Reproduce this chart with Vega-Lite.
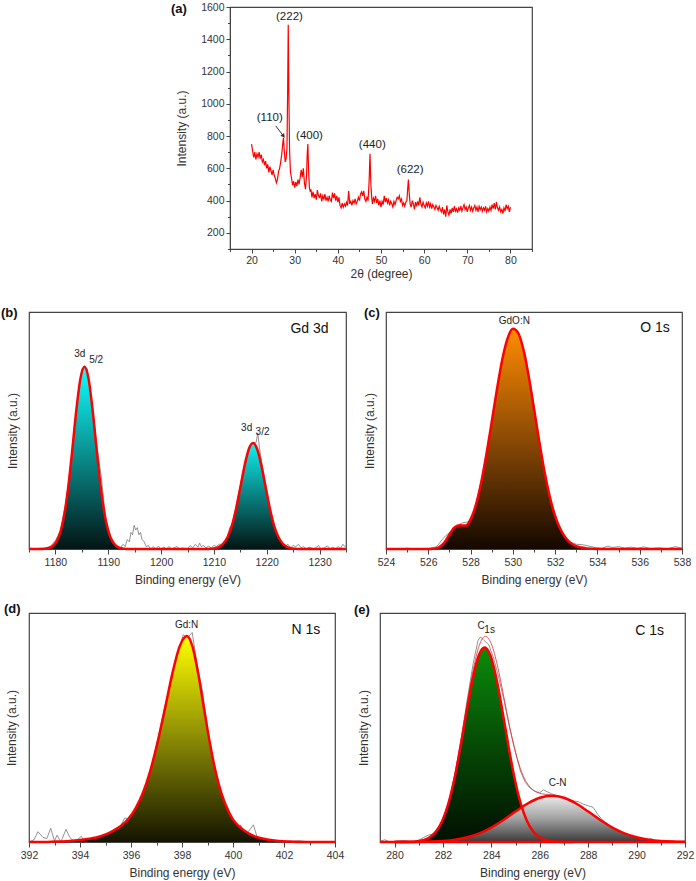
{
  "$schema": "https://vega.github.io/schema/vega-lite/v6.json",
  "padding": {"left": 0, "top": 1, "right": 0, "bottom": 0},
  "config": {
    "font": "Liberation Sans",
    "view": {"stroke": "#444", "strokeWidth": 1.2},
    "axis": {
      "labelFont": "Liberation Sans", "labelFontSize": 10.5, "labelColor": "#333",
      "titleFont": "Liberation Sans", "titleFontSize": 12, "titleFontWeight": "normal", "titleColor": "#333",
      "domainColor": "#444", "tickColor": "#444", "grid": false, "labelFlush": false, "labelOverlap": false
    },
    "title": {"font": "Liberation Sans", "fontSize": 13, "fontWeight": "bold", "color": "#111", "anchor": "start", "frame": "group", "baseline": "middle"}
  },
  "spacing": 24,
  "vconcat": [
    {
      "bounds": "flush",
      "spacing": 41,
      "hconcat": [
        {
          "width": 160, "height": 242,
          "view": {"stroke": null},
          "data": {"values": [{"v": 0}]},
          "mark": {"type": "rect", "opacity": 0},
          "encoding": {}
        },
        {
          "width": 302, "height": 242,
          "title": {"text": "(a)", "dx": -59, "offset": -14},
          "data": {"values": [
            {"x":20.00,"y":750},{"x":20.25,"y":705},{"x":20.50,"y":668},{"x":20.75,"y":700},{"x":21.00,"y":655},{"x":21.25,"y":690},{"x":21.50,"y":670},{"x":21.75,"y":700},
            {"x":22.00,"y":660},{"x":22.25,"y":685},{"x":22.50,"y":640},{"x":22.75,"y":655},{"x":23.00,"y":620},{"x":23.25,"y":645},{"x":23.50,"y":600},{"x":23.75,"y":625},
            {"x":24.00,"y":575},{"x":24.25,"y":610},{"x":24.50,"y":585},{"x":24.75,"y":560},{"x":25.00,"y":590},{"x":25.25,"y":555},{"x":25.50,"y":540},{"x":25.75,"y":510},
            {"x":26.00,"y":530},{"x":26.25,"y":580},{"x":26.50,"y":600},{"x":26.75,"y":640},{"x":27.00,"y":690},{"x":27.25,"y":760},{"x":27.40,"y":790},{"x":27.60,"y":700},
            {"x":27.80,"y":640},{"x":28.00,"y":660},{"x":28.20,"y":720},{"x":28.35,"y":1050},{"x":28.50,"y":1490},{"x":28.65,"y":1050},{"x":28.80,"y":720},{"x":29.00,"y":580},
            {"x":29.25,"y":540},{"x":29.50,"y":495},{"x":29.75,"y":520},{"x":30.00,"y":480},{"x":30.25,"y":515},{"x":30.50,"y":490},{"x":30.75,"y":530},{"x":31.00,"y":500},
            {"x":31.25,"y":540},{"x":31.50,"y":590},{"x":31.75,"y":545},{"x":32.00,"y":600},{"x":32.25,"y":510},{"x":32.50,"y":470},{"x":32.75,"y":560},{"x":32.90,"y":690},
            {"x":33.05,"y":750},{"x":33.20,"y":600},{"x":33.40,"y":480},{"x":33.60,"y":455},{"x":33.75,"y":470},{"x":34.00,"y":420},{"x":34.25,"y":455},{"x":34.50,"y":415},
            {"x":34.75,"y":440},{"x":35.00,"y":405},{"x":35.25,"y":465},{"x":35.50,"y":430},{"x":35.75,"y":420},{"x":36.00,"y":445},{"x":36.25,"y":395},{"x":36.50,"y":430},
            {"x":36.75,"y":410},{"x":37.00,"y":440},{"x":37.25,"y":400},{"x":37.50,"y":420},{"x":37.75,"y":395},{"x":38.00,"y":430},{"x":38.25,"y":405},{"x":38.50,"y":395},
            {"x":38.75,"y":450},{"x":39.00,"y":415},{"x":39.25,"y":445},{"x":39.50,"y":400},{"x":39.75,"y":430},{"x":40.00,"y":390},{"x":40.25,"y":420},{"x":40.50,"y":370},
            {"x":40.75,"y":355},{"x":41.00,"y":385},{"x":41.25,"y":360},{"x":41.50,"y":380},{"x":41.75,"y":365},{"x":42.00,"y":390},{"x":42.25,"y":370},{"x":42.50,"y":460},
            {"x":42.75,"y":380},{"x":43.00,"y":395},{"x":43.25,"y":370},{"x":43.50,"y":400},{"x":43.75,"y":385},{"x":44.00,"y":410},{"x":44.25,"y":380},{"x":44.50,"y":395},
            {"x":44.75,"y":420},{"x":45.00,"y":400},{"x":45.25,"y":440},{"x":45.50,"y":455},{"x":45.75,"y":430},{"x":46.00,"y":460},{"x":46.25,"y":410},{"x":46.50,"y":395},
            {"x":46.75,"y":420},{"x":47.00,"y":400},{"x":47.25,"y":520},{"x":47.45,"y":690},{"x":47.65,"y":500},{"x":47.85,"y":420},{"x":48.00,"y":380},{"x":48.25,"y":415},
            {"x":48.50,"y":395},{"x":48.75,"y":430},{"x":49.00,"y":385},{"x":49.25,"y":410},{"x":49.50,"y":370},{"x":49.75,"y":400},{"x":50.00,"y":360},{"x":50.25,"y":395},
            {"x":50.50,"y":375},{"x":50.75,"y":430},{"x":51.00,"y":390},{"x":51.25,"y":415},{"x":51.50,"y":385},{"x":51.75,"y":405},{"x":52.00,"y":370},{"x":52.25,"y":395},
            {"x":52.50,"y":380},{"x":52.75,"y":360},{"x":53.00,"y":395},{"x":53.25,"y":375},{"x":53.50,"y":400},{"x":53.75,"y":420},{"x":54.00,"y":410},{"x":54.25,"y":430},
            {"x":54.50,"y":395},{"x":54.75,"y":410},{"x":55.00,"y":370},{"x":55.25,"y":385},{"x":55.50,"y":365},{"x":55.75,"y":390},{"x":56.00,"y":400},{"x":56.20,"y":480},
            {"x":56.35,"y":530},{"x":56.55,"y":440},{"x":56.75,"y":380},{"x":57.00,"y":360},{"x":57.25,"y":400},{"x":57.50,"y":380},{"x":57.75,"y":345},{"x":58.00,"y":390},
            {"x":58.25,"y":365},{"x":58.50,"y":395},{"x":58.75,"y":370},{"x":59.00,"y":420},{"x":59.25,"y":380},{"x":59.50,"y":360},{"x":59.75,"y":390},{"x":60.00,"y":370},
            {"x":60.25,"y":355},{"x":60.50,"y":385},{"x":60.75,"y":365},{"x":61.00,"y":395},{"x":61.25,"y":360},{"x":61.50,"y":380},{"x":61.75,"y":350},{"x":62.00,"y":375},
            {"x":62.25,"y":360},{"x":62.50,"y":345},{"x":62.75,"y":370},{"x":63.00,"y":355},{"x":63.25,"y":340},{"x":63.50,"y":365},{"x":63.75,"y":345},{"x":64.00,"y":330},
            {"x":64.25,"y":360},{"x":64.50,"y":315},{"x":64.75,"y":345},{"x":65.00,"y":300},{"x":65.25,"y":370},{"x":65.50,"y":330},{"x":65.75,"y":310},{"x":66.00,"y":345},
            {"x":66.25,"y":320},{"x":66.50,"y":355},{"x":66.75,"y":330},{"x":67.00,"y":365},{"x":67.25,"y":335},{"x":67.50,"y":350},{"x":67.75,"y":325},{"x":68.00,"y":355},
            {"x":68.25,"y":340},{"x":68.50,"y":365},{"x":68.75,"y":335},{"x":69.00,"y":355},{"x":69.25,"y":375},{"x":69.50,"y":345},{"x":69.75,"y":360},{"x":70.00,"y":330},
            {"x":70.25,"y":355},{"x":70.50,"y":370},{"x":70.75,"y":340},{"x":71.00,"y":360},{"x":71.25,"y":335},{"x":71.50,"y":355},{"x":71.75,"y":370},{"x":72.00,"y":340},
            {"x":72.25,"y":360},{"x":72.50,"y":330},{"x":72.75,"y":365},{"x":73.00,"y":345},{"x":73.25,"y":360},{"x":73.50,"y":335},{"x":73.75,"y":355},{"x":74.00,"y":340},
            {"x":74.25,"y":365},{"x":74.50,"y":330},{"x":74.75,"y":350},{"x":75.00,"y":335},{"x":75.25,"y":360},{"x":75.50,"y":340},{"x":75.75,"y":375},{"x":76.00,"y":350},
            {"x":76.25,"y":385},{"x":76.50,"y":345},{"x":76.75,"y":390},{"x":77.00,"y":355},{"x":77.25,"y":340},{"x":77.50,"y":360},{"x":77.75,"y":330},{"x":78.00,"y":345},
            {"x":78.25,"y":320},{"x":78.50,"y":355},{"x":78.75,"y":335},{"x":79.00,"y":375},{"x":79.25,"y":350},{"x":79.50,"y":365},{"x":79.75,"y":330},{"x":80.00,"y":360}
          ]},
          "encoding": {
            "x": {"field": "x", "type": "quantitative", "scale": {"domain": [15, 85], "nice": false, "zero": false},
              "axis": {"title": "2θ (degree)", "format": "d", "values": [15,20,25,30,35,40,45,50,55,60,65,70,75,80,85],
                "labelExpr": "datum.value % 10 === 0 ? datum.label : ''",
                "tickSize": {"condition": {"test": "datum.value % 10 === 0", "value": 4}, "value": 2.5},
                "labelPadding": 2, "titlePadding": 3}},
            "y": {"field": "y", "type": "quantitative", "scale": {"domain": [100, 1600], "nice": false, "zero": false},
              "axis": {"title": "Intensity (a.u.)", "format": "d", "values": [100,200,300,400,500,600,700,800,900,1000,1100,1200,1300,1400,1500,1600],
                "labelExpr": "datum.value % 200 === 0 ? datum.label : ''",
                "tickSize": {"condition": {"test": "datum.value % 200 === 0", "value": 4}, "value": 2.5},
                "labelPadding": 2, "titlePadding": 12}}
          },
          "layer": [
            {"mark": {"type": "line", "color": "#ff0000", "strokeWidth": 1.2}},
            {
              "data": {"values": [
                {"x": 28.78, "y": 1537, "t": "(222)"},
                {"x": 24.22, "y": 911, "t": "(110)"},
                {"x": 33.42, "y": 799, "t": "(400)"},
                {"x": 47.98, "y": 744, "t": "(440)"},
                {"x": 56.74, "y": 592, "t": "(622)"}
              ]},
              "mark": {"type": "text", "fontSize": 11.5, "color": "#222", "baseline": "middle"},
              "encoding": {"text": {"field": "t"}}
            },
            {
              "data": {"values": [{"x": 25.6, "y": 863, "x2": 27.4, "y2": 800}]},
              "mark": {"type": "rule", "color": "#333", "strokeWidth": 1},
              "encoding": {"x2": {"field": "x2"}, "y2": {"field": "y2"}}
            },
            {
              "data": {"values": [{"x": 27.4, "y": 800}]},
              "mark": {"type": "point", "shape": "triangle-up", "angle": 143, "size": 22, "filled": true, "color": "#333", "opacity": 1}
            }
          ]
        }
      ]
    },
    {
      "spacing": 14,
      "vconcat": [
        {
          "bounds": "flush",
          "spacing": 40,
          "hconcat": [
            {
              "width": 317, "height": 237,
              "title": {"text": "(b)", "dx": -28, "offset": -7.5},
              "data": {"values": [
                {"s":"z","x":1175,"y":0},{"s":"z","x":1235,"y":0},
                {"s":"p1","x":1177.5,"y":0},{"s":"p1","x":1178.0,"y":0.001},{"s":"p1","x":1178.75,"y":0.004},{"s":"p1","x":1179.5,"y":0.0125},{"s":"p1","x":1180.25,"y":0.033},
                {"s":"p1","x":1181.0,"y":0.076},{"s":"p1","x":1181.75,"y":0.154},{"s":"p1","x":1182.5,"y":0.275},{"s":"p1","x":1183.25,"y":0.431},{"s":"p1","x":1184.0,"y":0.594},
                {"s":"p1","x":1184.75,"y":0.721},{"s":"p1","x":1185.5,"y":0.769},{"s":"p1","x":1186.25,"y":0.721},{"s":"p1","x":1187.0,"y":0.594},{"s":"p1","x":1187.75,"y":0.431},
                {"s":"p1","x":1188.5,"y":0.275},{"s":"p1","x":1189.25,"y":0.154},{"s":"p1","x":1190.0,"y":0.076},{"s":"p1","x":1190.75,"y":0.033},{"s":"p1","x":1191.5,"y":0.0125},
                {"s":"p1","x":1192.25,"y":0.004},{"s":"p1","x":1193.0,"y":0.001},{"s":"p1","x":1193.5,"y":0},
                {"s":"p2","x":1208.6,"y":0},{"s":"p2","x":1209.4,"y":0.001},{"s":"p2","x":1210.2,"y":0.003},{"s":"p2","x":1211.0,"y":0.009},{"s":"p2","x":1211.8,"y":0.023},
                {"s":"p2","x":1212.6,"y":0.051},{"s":"p2","x":1213.4,"y":0.098},{"s":"p2","x":1214.2,"y":0.170},{"s":"p2","x":1215.0,"y":0.259},{"s":"p2","x":1215.8,"y":0.351},
                {"s":"p2","x":1216.6,"y":0.421},{"s":"p2","x":1217.4,"y":0.447},{"s":"p2","x":1218.2,"y":0.421},{"s":"p2","x":1219.0,"y":0.351},{"s":"p2","x":1219.8,"y":0.259},
                {"s":"p2","x":1220.6,"y":0.170},{"s":"p2","x":1221.4,"y":0.098},{"s":"p2","x":1222.2,"y":0.051},{"s":"p2","x":1223.0,"y":0.023},{"s":"p2","x":1223.8,"y":0.009},
                {"s":"p2","x":1224.6,"y":0.003},{"s":"p2","x":1225.4,"y":0.001},{"s":"p2","x":1226.2,"y":0},
                {"s":"raw","x":1175,"y":0.005},{"s":"raw","x":1176,"y":0.0},{"s":"raw","x":1177,"y":0.003},{"s":"raw","x":1178,"y":0.004},{"s":"raw","x":1179,"y":0.01},
                {"s":"raw","x":1180,"y":0.035},{"s":"raw","x":1181,"y":0.08},{"s":"raw","x":1182,"y":0.2},{"s":"raw","x":1183,"y":0.37},{"s":"raw","x":1184,"y":0.6},
                {"s":"raw","x":1185,"y":0.76},{"s":"raw","x":1186,"y":0.76},{"s":"raw","x":1187,"y":0.6},{"s":"raw","x":1188,"y":0.41},{"s":"raw","x":1188.7,"y":0.3},
                {"s":"raw","x":1189.5,"y":0.13},{"s":"raw","x":1190.5,"y":0.05},{"s":"raw","x":1191.5,"y":0.015},{"s":"raw","x":1192.3,"y":0.005},{"s":"raw","x":1192.8,"y":0.02},
                {"s":"raw","x":1193.2,"y":0.01},{"s":"raw","x":1193.6,"y":0.04},{"s":"raw","x":1194.0,"y":0.03},{"s":"raw","x":1194.3,"y":0.07},{"s":"raw","x":1194.6,"y":0.06},
                {"s":"raw","x":1194.9,"y":0.1},{"s":"raw","x":1195.2,"y":0.08},{"s":"raw","x":1195.5,"y":0.09},{"s":"raw","x":1195.8,"y":0.06},{"s":"raw","x":1196.1,"y":0.07},
                {"s":"raw","x":1196.4,"y":0.04},{"s":"raw","x":1196.8,"y":0.03},{"s":"raw","x":1197.2,"y":0.01},{"s":"raw","x":1197.6,"y":0.015},{"s":"raw","x":1198,"y":0.0},
                {"s":"raw","x":1198.5,"y":0.01},{"s":"raw","x":1199,"y":0.0},{"s":"raw","x":1199.5,"y":0.012},{"s":"raw","x":1200,"y":0.0},{"s":"raw","x":1200.5,"y":0.008},
                {"s":"raw","x":1201,"y":0.0},{"s":"raw","x":1201.5,"y":0.01},{"s":"raw","x":1202,"y":0.0},{"s":"raw","x":1202.5,"y":0.006},{"s":"raw","x":1203,"y":0.01},
                {"s":"raw","x":1203.5,"y":0.0},{"s":"raw","x":1204,"y":0.004},{"s":"raw","x":1205,"y":0.0},{"s":"raw","x":1205.5,"y":0.015},{"s":"raw","x":1206,"y":0.005},
                {"s":"raw","x":1206.5,"y":0.02},{"s":"raw","x":1207,"y":0.008},{"s":"raw","x":1207.3,"y":0.025},{"s":"raw","x":1207.6,"y":0.01},{"s":"raw","x":1208,"y":0.015},
                {"s":"raw","x":1208.5,"y":0.005},{"s":"raw","x":1209,"y":0.012},{"s":"raw","x":1209.5,"y":0.004},{"s":"raw","x":1210,"y":0.015},{"s":"raw","x":1210.5,"y":0.01},
                {"s":"raw","x":1211,"y":0.02},{"s":"raw","x":1211.5,"y":0.02},{"s":"raw","x":1212,"y":0.035},{"s":"raw","x":1212.5,"y":0.05},{"s":"raw","x":1213,"y":0.09},
                {"s":"raw","x":1213.5,"y":0.11},{"s":"raw","x":1214,"y":0.16},{"s":"raw","x":1215,"y":0.27},{"s":"raw","x":1216,"y":0.38},{"s":"raw","x":1217,"y":0.44},
                {"s":"raw","x":1218,"y":0.45},{"s":"raw","x":1218.3,"y":0.49},{"s":"raw","x":1218.6,"y":0.43},{"s":"raw","x":1219,"y":0.37},{"s":"raw","x":1219.5,"y":0.31},
                {"s":"raw","x":1220,"y":0.25},{"s":"raw","x":1221,"y":0.12},{"s":"raw","x":1222,"y":0.06},{"s":"raw","x":1223,"y":0.025},{"s":"raw","x":1223.5,"y":0.01},
                {"s":"raw","x":1224,"y":0.02},{"s":"raw","x":1224.5,"y":0.005},{"s":"raw","x":1225,"y":0.015},{"s":"raw","x":1225.5,"y":0.01},{"s":"raw","x":1226,"y":0.02},
                {"s":"raw","x":1226.5,"y":0.005},{"s":"raw","x":1227,"y":0.01},{"s":"raw","x":1227.5,"y":0.0},{"s":"raw","x":1228,"y":0.008},{"s":"raw","x":1229,"y":0.0},
                {"s":"raw","x":1229.8,"y":0.015},{"s":"raw","x":1230.2,"y":0.0},{"s":"raw","x":1231,"y":0.006},{"s":"raw","x":1231.5,"y":0.013},{"s":"raw","x":1232,"y":0.0},
                {"s":"raw","x":1232.5,"y":0.008},{"s":"raw","x":1233,"y":0.0},{"s":"raw","x":1233.5,"y":0.01},{"s":"raw","x":1234,"y":0.004},{"s":"raw","x":1234.4,"y":0.02},
                {"s":"raw","x":1234.8,"y":0.01},{"s":"raw","x":1235,"y":0.015}
              ]},
              "encoding": {
                "x": {"field": "x", "type": "quantitative", "scale": {"domain": [1175, 1235], "nice": false, "zero": false},
                  "axis": {"title": "Binding energy (eV)", "format": "d", "values": [1175,1180,1185,1190,1195,1200,1205,1210,1215,1220,1225,1230,1235],
                    "labelExpr": "datum.value % 10 === 0 ? datum.label : ''",
                    "tickSize": {"condition": {"test": "datum.value % 10 === 0", "value": 5}, "value": 3},
                    "labelPadding": 3, "titlePadding": 7}},
                "y": {"field": "y", "type": "quantitative", "scale": {"domain": [0, 1], "nice": false},
                  "axis": {"title": "Intensity (a.u.)", "labels": false, "ticks": false, "domain": false, "titlePadding": 10}}
              },
              "layer": [
                {"transform": [{"filter": "datum.s == 'raw'"}], "mark": {"type": "line", "color": "#777", "strokeWidth": 0.8}},
                {"transform": [{"filter": "datum.s == 'p1'"}], "mark": {"type": "area", "interpolate": "monotone", "opacity": 1,
                  "color": {"gradient": "linear", "x1": 0, "y1": 0, "x2": 0, "y2": 1, "stops": [{"offset": 0, "color": "#10ffff"}, {"offset": 0.5, "color": "#0a8a8a"}, {"offset": 1, "color": "#031414"}]}}},
                {"transform": [{"filter": "datum.s == 'p2'"}], "mark": {"type": "area", "interpolate": "monotone", "opacity": 1,
                  "color": {"gradient": "linear", "x1": 0, "y1": 0, "x2": 0, "y2": 1, "stops": [{"offset": 0, "color": "#10f0f0"}, {"offset": 0.5, "color": "#0a8080"}, {"offset": 1, "color": "#031414"}]}}},
                {"transform": [{"filter": "datum.s != 'raw'"}], "mark": {"type": "line", "color": "#ff0000", "strokeWidth": 2.5, "interpolate": "monotone"}},
                {
                  "data": {"values": [
                    {"x": 1184.6, "y": 0.822, "t": "3d"}, {"x": 1187.7, "y": 0.797, "t": "5/2"},
                    {"x": 1216.2, "y": 0.512, "t": "3d"}, {"x": 1219.2, "y": 0.492, "t": "3/2"}
                  ]},
                  "mark": {"type": "text", "fontSize": 10, "color": "#222", "baseline": "middle"},
                  "encoding": {"text": {"field": "t"}}
                },
                {
                  "data": {"values": [{"x": 1228.1, "y": 0.929, "t": "Gd 3d"}]},
                  "mark": {"type": "text", "fontSize": 14, "color": "#111", "baseline": "middle"},
                  "encoding": {"text": {"field": "t"}}
                }
              ]
            },
            {
              "width": 296, "height": 237,
              "title": {"text": "(c)", "dx": -22, "offset": -7.5},
              "data": {"values": [
                {"s":"p1","x":524,"y":0},{"s":"p1","x":525.5,"y":0},{"s":"p1","x":526.0,"y":0},{"s":"p1","x":526.25,"y":0.001},{"s":"p1","x":526.5,"y":0.007},
                {"s":"p1","x":526.75,"y":0.026},{"s":"p1","x":527.0,"y":0.061},{"s":"p1","x":527.25,"y":0.092},{"s":"p1","x":527.5,"y":0.100},{"s":"p1","x":527.75,"y":0.099},
                {"s":"p1","x":528.0,"y":0.124},{"s":"p1","x":528.25,"y":0.186},{"s":"p1","x":528.5,"y":0.280},{"s":"p1","x":528.75,"y":0.400},{"s":"p1","x":529.0,"y":0.536},
                {"s":"p1","x":529.25,"y":0.675},{"s":"p1","x":529.5,"y":0.800},{"s":"p1","x":529.75,"y":0.889},{"s":"p1","x":530.0,"y":0.929},{"s":"p1","x":530.25,"y":0.912},
                {"s":"p1","x":530.5,"y":0.841},{"s":"p1","x":530.75,"y":0.728},{"s":"p1","x":531.0,"y":0.592},{"s":"p1","x":531.25,"y":0.453},{"s":"p1","x":531.5,"y":0.325},
                {"s":"p1","x":531.75,"y":0.219},{"s":"p1","x":532.0,"y":0.139},{"s":"p1","x":532.25,"y":0.083},{"s":"p1","x":532.5,"y":0.046},{"s":"p1","x":532.75,"y":0.024},
                {"s":"p1","x":533.0,"y":0.012},{"s":"p1","x":533.25,"y":0.006},{"s":"p1","x":533.5,"y":0.002},{"s":"p1","x":534.0,"y":0},{"s":"p1","x":538,"y":0},
                {"s":"raw","x":524,"y":0.002},{"s":"raw","x":524.5,"y":0},{"s":"raw","x":525,"y":0.003},{"s":"raw","x":525.5,"y":0},{"s":"raw","x":526,"y":0.002},
                {"s":"raw","x":526.4,"y":0.01},{"s":"raw","x":526.7,"y":0.045},{"s":"raw","x":527.0,"y":0.07},{"s":"raw","x":527.3,"y":0.095},{"s":"raw","x":527.6,"y":0.11},
                {"s":"raw","x":527.9,"y":0.115},{"s":"raw","x":528.2,"y":0.17},{"s":"raw","x":528.5,"y":0.285},{"s":"raw","x":528.8,"y":0.43},{"s":"raw","x":529.1,"y":0.59},
                {"s":"raw","x":529.4,"y":0.75},{"s":"raw","x":529.7,"y":0.875},{"s":"raw","x":530.0,"y":0.93},{"s":"raw","x":530.3,"y":0.905},{"s":"raw","x":530.6,"y":0.82},
                {"s":"raw","x":530.9,"y":0.66},{"s":"raw","x":531.2,"y":0.49},{"s":"raw","x":531.5,"y":0.33},{"s":"raw","x":531.8,"y":0.2},{"s":"raw","x":532.1,"y":0.12},
                {"s":"raw","x":532.4,"y":0.06},{"s":"raw","x":532.7,"y":0.03},{"s":"raw","x":533.0,"y":0.02},{"s":"raw","x":533.3,"y":0.018},{"s":"raw","x":533.6,"y":0.012},
                {"s":"raw","x":533.9,"y":0.006},{"s":"raw","x":534.2,"y":0.003},{"s":"raw","x":534.5,"y":0.012},{"s":"raw","x":534.7,"y":0.006},{"s":"raw","x":535.0,"y":0.01},
                {"s":"raw","x":535.3,"y":0.004},{"s":"raw","x":535.6,"y":0.008},{"s":"raw","x":535.9,"y":0.003},{"s":"raw","x":536.2,"y":0.009},{"s":"raw","x":536.5,"y":0.002},
                {"s":"raw","x":536.9,"y":0.005},{"s":"raw","x":537.3,"y":0.001},{"s":"raw","x":537.7,"y":0.01},{"s":"raw","x":538,"y":0.003}
              ]},
              "encoding": {
                "x": {"field": "x", "type": "quantitative", "scale": {"domain": [524, 538], "nice": false, "zero": false},
                  "axis": {"title": "Binding energy (eV)", "format": "d", "values": [524,525,526,527,528,529,530,531,532,533,534,535,536,537,538],
                    "labelExpr": "datum.value % 2 === 0 ? datum.label : ''",
                    "tickSize": {"condition": {"test": "datum.value % 2 === 0", "value": 5}, "value": 3},
                    "labelPadding": 3, "titlePadding": 7}},
                "y": {"field": "y", "type": "quantitative", "scale": {"domain": [0, 1], "nice": false},
                  "axis": {"title": "Intensity (a.u.)", "labels": false, "ticks": false, "domain": false, "titlePadding": 10}}
              },
              "layer": [
                {"transform": [{"filter": "datum.s == 'raw'"}], "mark": {"type": "line", "color": "#777", "strokeWidth": 0.8}},
                {"transform": [{"filter": "datum.s == 'p1'"}], "mark": {"type": "area", "interpolate": "monotone", "opacity": 1,
                  "color": {"gradient": "linear", "x1": 0, "y1": 0, "x2": 0, "y2": 1, "stops": [{"offset": 0, "color": "#ff8c00"}, {"offset": 0.5, "color": "#8c4a05"}, {"offset": 1, "color": "#140800"}]}}},
                {"transform": [{"filter": "datum.s == 'p1'"}], "mark": {"type": "line", "color": "#ff0000", "strokeWidth": 2.5, "interpolate": "monotone"}},
                {
                  "data": {"values": [{"x": 530.07, "y": 0.96, "t": "GdO:N"}]},
                  "mark": {"type": "text", "fontSize": 10, "color": "#222", "baseline": "middle"},
                  "encoding": {"text": {"field": "t"}}
                },
                {
                  "data": {"values": [{"x": 536.72, "y": 0.933, "t": "O 1s"}]},
                  "mark": {"type": "text", "fontSize": 14, "color": "#111", "baseline": "middle"},
                  "encoding": {"text": {"field": "t"}}
                }
              ]
            }
          ]
        },
        {
          "bounds": "flush",
          "spacing": 45,
          "hconcat": [
            {
              "width": 306, "height": 229,
              "title": {"text": "(d)", "dx": -25, "offset": -2.5},
              "data": {"values": [
                {"s":"p1","x":392,"y":0},{"s":"p1","x":392.4,"y":0},{"s":"p1","x":393.0,"y":0.0018},{"s":"p1","x":393.59,"y":0.0045},{"s":"p1","x":394.165,"y":0.011},
                {"s":"p1","x":394.74,"y":0.023},{"s":"p1","x":395.03,"y":0.034},{"s":"p1","x":395.315,"y":0.05},{"s":"p1","x":395.6,"y":0.07},{"s":"p1","x":395.89,"y":0.1},
                {"s":"p1","x":396.18,"y":0.147},{"s":"p1","x":396.465,"y":0.214},{"s":"p1","x":396.75,"y":0.309},{"s":"p1","x":397.04,"y":0.434},{"s":"p1","x":397.33,"y":0.581},
                {"s":"p1","x":397.615,"y":0.732},{"s":"p1","x":397.9,"y":0.852},{"s":"p1","x":398.19,"y":0.9},{"s":"p1","x":398.415,"y":0.852},{"s":"p1","x":398.64,"y":0.732},
                {"s":"p1","x":398.865,"y":0.581},{"s":"p1","x":399.09,"y":0.434},{"s":"p1","x":399.315,"y":0.309},{"s":"p1","x":399.54,"y":0.214},{"s":"p1","x":399.765,"y":0.147},
                {"s":"p1","x":399.99,"y":0.1},{"s":"p1","x":400.215,"y":0.07},{"s":"p1","x":400.44,"y":0.05},{"s":"p1","x":400.665,"y":0.034},{"s":"p1","x":400.89,"y":0.023},
                {"s":"p1","x":401.34,"y":0.011},{"s":"p1","x":401.79,"y":0.0045},{"s":"p1","x":402.24,"y":0.0018},{"s":"p1","x":402.69,"y":0},{"s":"p1","x":404,"y":0},
                {"s":"raw","x":392.0,"y":0.0},{"s":"raw","x":392.2,"y":0.01},{"s":"raw","x":392.35,"y":0.045},{"s":"raw","x":392.55,"y":0.02},{"s":"raw","x":392.7,"y":0.015},
                {"s":"raw","x":392.85,"y":0.06},{"s":"raw","x":393.0,"y":0.005},{"s":"raw","x":393.1,"y":0.03},{"s":"raw","x":393.25,"y":0.0},{"s":"raw","x":393.45,"y":0.055},
                {"s":"raw","x":393.6,"y":0.02},{"s":"raw","x":393.8,"y":0.0},{"s":"raw","x":394.05,"y":0.025},{"s":"raw","x":394.2,"y":0.0},{"s":"raw","x":394.5,"y":0.005},
                {"s":"raw","x":394.9,"y":0.02},{"s":"raw","x":395.2,"y":0.02},{"s":"raw","x":395.5,"y":0.05},{"s":"raw","x":395.75,"y":0.105},{"s":"raw","x":396.0,"y":0.1},
                {"s":"raw","x":396.27,"y":0.17},{"s":"raw","x":396.5,"y":0.2},{"s":"raw","x":396.8,"y":0.3},{"s":"raw","x":397.05,"y":0.45},{"s":"raw","x":397.3,"y":0.58},
                {"s":"raw","x":397.6,"y":0.72},{"s":"raw","x":397.85,"y":0.83},{"s":"raw","x":398.05,"y":0.905},{"s":"raw","x":398.2,"y":0.89},{"s":"raw","x":398.4,"y":0.915},
                {"s":"raw","x":398.6,"y":0.77},{"s":"raw","x":398.8,"y":0.66},{"s":"raw","x":399.0,"y":0.5},{"s":"raw","x":399.2,"y":0.37},{"s":"raw","x":399.45,"y":0.25},
                {"s":"raw","x":399.7,"y":0.17},{"s":"raw","x":399.8,"y":0.15},{"s":"raw","x":400.0,"y":0.09},{"s":"raw","x":400.15,"y":0.05},{"s":"raw","x":400.3,"y":0.075},
                {"s":"raw","x":400.45,"y":0.03},{"s":"raw","x":400.6,"y":0.045},{"s":"raw","x":400.8,"y":0.075},{"s":"raw","x":400.95,"y":0.02},{"s":"raw","x":401.2,"y":0.01},
                {"s":"raw","x":401.6,"y":0.003},{"s":"raw","x":402.0,"y":0.0},{"s":"raw","x":402.6,"y":0.006},{"s":"raw","x":403.0,"y":0.0},{"s":"raw","x":404.0,"y":0.0}
              ]},
              "encoding": {
                "x": {"field": "x", "type": "quantitative", "scale": {"domain": [392, 404], "nice": false, "zero": false},
                  "axis": {"title": "Binding energy (eV)", "format": "d", "values": [392,393,394,395,396,397,398,399,400,401,402,403,404],
                    "labelExpr": "datum.value % 2 === 0 ? datum.label : ''",
                    "tickSize": {"condition": {"test": "datum.value % 2 === 0", "value": 5}, "value": 3},
                    "labelPadding": 3, "titlePadding": 7}},
                "y": {"field": "y", "type": "quantitative", "scale": {"domain": [0, 1], "nice": false},
                  "axis": {"title": "Intensity (a.u.)", "labels": false, "ticks": false, "domain": false, "titlePadding": 11}}
              },
              "layer": [
                {"transform": [{"filter": "datum.s == 'raw'"}], "mark": {"type": "line", "color": "#777", "strokeWidth": 0.8}},
                {"transform": [{"filter": "datum.s == 'p1'"}], "mark": {"type": "area", "interpolate": "monotone", "opacity": 1,
                  "color": {"gradient": "linear", "x1": 0, "y1": 0, "x2": 0, "y2": 1, "stops": [{"offset": 0, "color": "#ffff00"}, {"offset": 0.5, "color": "#8a8a05"}, {"offset": 1, "color": "#141400"}]}}},
                {"transform": [{"filter": "datum.s == 'p1'"}], "mark": {"type": "line", "color": "#ff0000", "strokeWidth": 2.5, "interpolate": "monotone"}},
                {
                  "data": {"values": [{"x": 398.18, "y": 0.948, "t": "Gd:N"}]},
                  "mark": {"type": "text", "fontSize": 10, "color": "#222", "baseline": "middle"},
                  "encoding": {"text": {"field": "t"}}
                },
                {
                  "data": {"values": [{"x": 402.86, "y": 0.924, "t": "N 1s"}]},
                  "mark": {"type": "text", "fontSize": 14, "color": "#111", "baseline": "middle"},
                  "encoding": {"text": {"field": "t"}}
                }
              ]
            },
            {
              "width": 305, "height": 229,
              "title": {"text": "(e)", "dx": -26, "offset": -3.5},
              "data": {"values": [
                {"s":"b","x":279.4,"y":0},{"s":"b","x":292,"y":0},
                {"s":"p1","x":280.0,"y":0},{"s":"p1","x":280.72,"y":0.001},{"s":"p1","x":280.97,"y":0.0035},{"s":"p1","x":281.22,"y":0.009},{"s":"p1","x":281.47,"y":0.022},
                {"s":"p1","x":281.72,"y":0.047},{"s":"p1","x":281.97,"y":0.092},{"s":"p1","x":282.22,"y":0.166},{"s":"p1","x":282.47,"y":0.273},{"s":"p1","x":282.72,"y":0.411},
                {"s":"p1","x":282.97,"y":0.565},{"s":"p1","x":283.22,"y":0.708},{"s":"p1","x":283.47,"y":0.812},{"s":"p1","x":283.72,"y":0.849},{"s":"p1","x":283.97,"y":0.812},
                {"s":"p1","x":284.22,"y":0.708},{"s":"p1","x":284.47,"y":0.565},{"s":"p1","x":284.72,"y":0.411},{"s":"p1","x":284.97,"y":0.273},{"s":"p1","x":285.22,"y":0.166},
                {"s":"p1","x":285.47,"y":0.092},{"s":"p1","x":285.72,"y":0.047},{"s":"p1","x":285.97,"y":0.022},{"s":"p1","x":286.22,"y":0.009},{"s":"p1","x":286.47,"y":0.0035},
                {"s":"p1","x":286.72,"y":0.001},{"s":"p1","x":287.4,"y":0},
                {"s":"p2","x":280.0,"y":0},{"s":"p2","x":280.5,"y":0.0002},{"s":"p2","x":281.0,"y":0.0007},{"s":"p2","x":281.5,"y":0.0019},{"s":"p2","x":282.0,"y":0.0047},
                {"s":"p2","x":282.5,"y":0.0103},{"s":"p2","x":283.0,"y":0.0207},{"s":"p2","x":283.5,"y":0.038},{"s":"p2","x":284.0,"y":0.063},{"s":"p2","x":284.5,"y":0.096},
                {"s":"p2","x":285.0,"y":0.133},{"s":"p2","x":285.5,"y":0.168},{"s":"p2","x":286.0,"y":0.193},{"s":"p2","x":286.5,"y":0.202},{"s":"p2","x":287.0,"y":0.193},
                {"s":"p2","x":287.5,"y":0.168},{"s":"p2","x":288.0,"y":0.133},{"s":"p2","x":288.5,"y":0.096},{"s":"p2","x":289.0,"y":0.063},{"s":"p2","x":289.5,"y":0.038},
                {"s":"p2","x":290.0,"y":0.0207},{"s":"p2","x":290.5,"y":0.0103},{"s":"p2","x":291.0,"y":0.0047},{"s":"p2","x":291.5,"y":0.0019},{"s":"p2","x":292.0,"y":0.0007},
                {"s":"sum","x":280.5,"y":0},{"s":"sum","x":281.0,"y":0.005},{"s":"sum","x":281.25,"y":0.011},{"s":"sum","x":281.5,"y":0.026},{"s":"sum","x":281.75,"y":0.054},
                {"s":"sum","x":282.0,"y":0.104},{"s":"sum","x":282.25,"y":0.184},{"s":"sum","x":282.5,"y":0.299},{"s":"sum","x":282.75,"y":0.444},{"s":"sum","x":283.0,"y":0.604},
                {"s":"sum","x":283.25,"y":0.752},{"s":"sum","x":283.5,"y":0.858},{"s":"sum","x":283.75,"y":0.898},{"s":"sum","x":284.0,"y":0.865},{"s":"sum","x":284.25,"y":0.771},
                {"s":"sum","x":284.5,"y":0.642},{"s":"sum","x":284.75,"y":0.507},{"s":"sum","x":285.0,"y":0.392},{"s":"sum","x":285.25,"y":0.306},{"s":"sum","x":285.5,"y":0.253},
                {"s":"sum","x":285.75,"y":0.225},{"s":"sum","x":286.0,"y":0.2125},{"s":"sum","x":286.25,"y":0.208},{"s":"sum","x":286.5,"y":0.205},{"s":"sum","x":287.0,"y":0.193},
                {"s":"sum","x":287.5,"y":0.168},{"s":"sum","x":288.0,"y":0.133},{"s":"sum","x":288.5,"y":0.096},{"s":"sum","x":289.0,"y":0.063},{"s":"sum","x":289.5,"y":0.038},
                {"s":"sum","x":290.0,"y":0.021},{"s":"sum","x":290.5,"y":0.010},{"s":"sum","x":291.0,"y":0.005},{"s":"sum","x":291.5,"y":0.002},
                {"s":"raw","x":279.4,"y":0.003},{"s":"raw","x":279.6,"y":0.01},{"s":"raw","x":279.8,"y":0.0},{"s":"raw","x":280.1,"y":0.004},{"s":"raw","x":280.4,"y":0.007},
                {"s":"raw","x":280.7,"y":0.0},{"s":"raw","x":281.0,"y":0.008},{"s":"raw","x":281.2,"y":0.02},{"s":"raw","x":281.4,"y":0.03},{"s":"raw","x":281.6,"y":0.035},
                {"s":"raw","x":281.8,"y":0.06},{"s":"raw","x":282.0,"y":0.1},{"s":"raw","x":282.25,"y":0.18},{"s":"raw","x":282.5,"y":0.3},{"s":"raw","x":282.75,"y":0.45},
                {"s":"raw","x":283.0,"y":0.62},{"s":"raw","x":283.25,"y":0.78},{"s":"raw","x":283.45,"y":0.88},{"s":"raw","x":283.55,"y":0.896},{"s":"raw","x":283.7,"y":0.88},
                {"s":"raw","x":283.9,"y":0.86},{"s":"raw","x":284.1,"y":0.8},{"s":"raw","x":284.3,"y":0.72},{"s":"raw","x":284.5,"y":0.63},{"s":"raw","x":284.75,"y":0.5},
                {"s":"raw","x":285.0,"y":0.39},{"s":"raw","x":285.2,"y":0.31},{"s":"raw","x":285.4,"y":0.26},{"s":"raw","x":285.6,"y":0.235},{"s":"raw","x":285.8,"y":0.222},
                {"s":"raw","x":286.0,"y":0.215},{"s":"raw","x":286.15,"y":0.228},{"s":"raw","x":286.3,"y":0.22},{"s":"raw","x":286.5,"y":0.21},{"s":"raw","x":286.8,"y":0.2},
                {"s":"raw","x":287.1,"y":0.19},{"s":"raw","x":287.35,"y":0.18},{"s":"raw","x":287.6,"y":0.176},{"s":"raw","x":287.8,"y":0.165},{"s":"raw","x":288.0,"y":0.158},
                {"s":"raw","x":288.2,"y":0.152},{"s":"raw","x":288.4,"y":0.12},{"s":"raw","x":288.6,"y":0.095},{"s":"raw","x":288.9,"y":0.07},{"s":"raw","x":289.2,"y":0.05},
                {"s":"raw","x":289.5,"y":0.037},{"s":"raw","x":289.8,"y":0.025},{"s":"raw","x":290.1,"y":0.015},{"s":"raw","x":290.4,"y":0.01},{"s":"raw","x":290.6,"y":0.015},
                {"s":"raw","x":290.8,"y":0.005},{"s":"raw","x":291.2,"y":0.003},{"s":"raw","x":291.6,"y":0.0},{"s":"raw","x":292,"y":0.002}
              ]},
              "encoding": {
                "x": {"field": "x", "type": "quantitative", "scale": {"domain": [279.4, 292], "nice": false, "zero": false},
                  "axis": {"title": "Binding energy (eV)", "format": "d", "values": [280,281,282,283,284,285,286,287,288,289,290,291,292],
                    "labelExpr": "datum.value % 2 === 0 ? datum.label : ''",
                    "tickSize": {"condition": {"test": "datum.value % 2 === 0", "value": 5}, "value": 3},
                    "labelPadding": 3, "titlePadding": 7}},
                "y": {"field": "y", "type": "quantitative", "scale": {"domain": [0, 1], "nice": false},
                  "axis": {"title": "Intensity (a.u.)", "labels": false, "ticks": false, "domain": false, "titlePadding": 10}}
              },
              "layer": [
                {"transform": [{"filter": "datum.s == 'raw'"}], "mark": {"type": "line", "color": "#777", "strokeWidth": 0.8}},
                {"transform": [{"filter": "datum.s == 'p1'"}], "mark": {"type": "area", "interpolate": "monotone", "opacity": 1,
                  "color": {"gradient": "linear", "x1": 0, "y1": 0, "x2": 0, "y2": 1, "stops": [{"offset": 0, "color": "#0a8c0a"}, {"offset": 0.5, "color": "#064a06"}, {"offset": 1, "color": "#010f01"}]}}},
                {"transform": [{"filter": "datum.s == 'p2'"}], "mark": {"type": "area", "interpolate": "monotone", "opacity": 1,
                  "color": {"gradient": "linear", "x1": 0, "y1": 0, "x2": 0, "y2": 1, "stops": [{"offset": 0, "color": "#ebebeb"}, {"offset": 0.5, "color": "#a0a0a0"}, {"offset": 1, "color": "#3a3a3a"}]}}},
                {"transform": [{"filter": "datum.s == 'sum'"}], "mark": {"type": "line", "color": "#e03030", "strokeWidth": 0.8, "interpolate": "monotone"}},
                {"transform": [{"filter": "datum.s == 'p1' || datum.s == 'p2' || datum.s == 'b'"}], "mark": {"type": "line", "color": "#ff0000", "strokeWidth": 2.5, "interpolate": "monotone"},
                  "encoding": {"detail": {"field": "s"}}},
                {
                  "data": {"values": [
                    {"x": 283.58, "y": 0.944, "t": "C"}, {"x": 283.93, "y": 0.926, "t": "1s"}, {"x": 286.74, "y": 0.256, "t": "C-N"}
                  ]},
                  "mark": {"type": "text", "fontSize": 10, "color": "#222", "baseline": "middle"},
                  "encoding": {"text": {"field": "t"}}
                },
                {
                  "data": {"values": [{"x": 290.54, "y": 0.922, "t": "C 1s"}]},
                  "mark": {"type": "text", "fontSize": 14, "color": "#111", "baseline": "middle"},
                  "encoding": {"text": {"field": "t"}}
                }
              ]
            }
          ]
        }
      ]
    }
  ]
}
